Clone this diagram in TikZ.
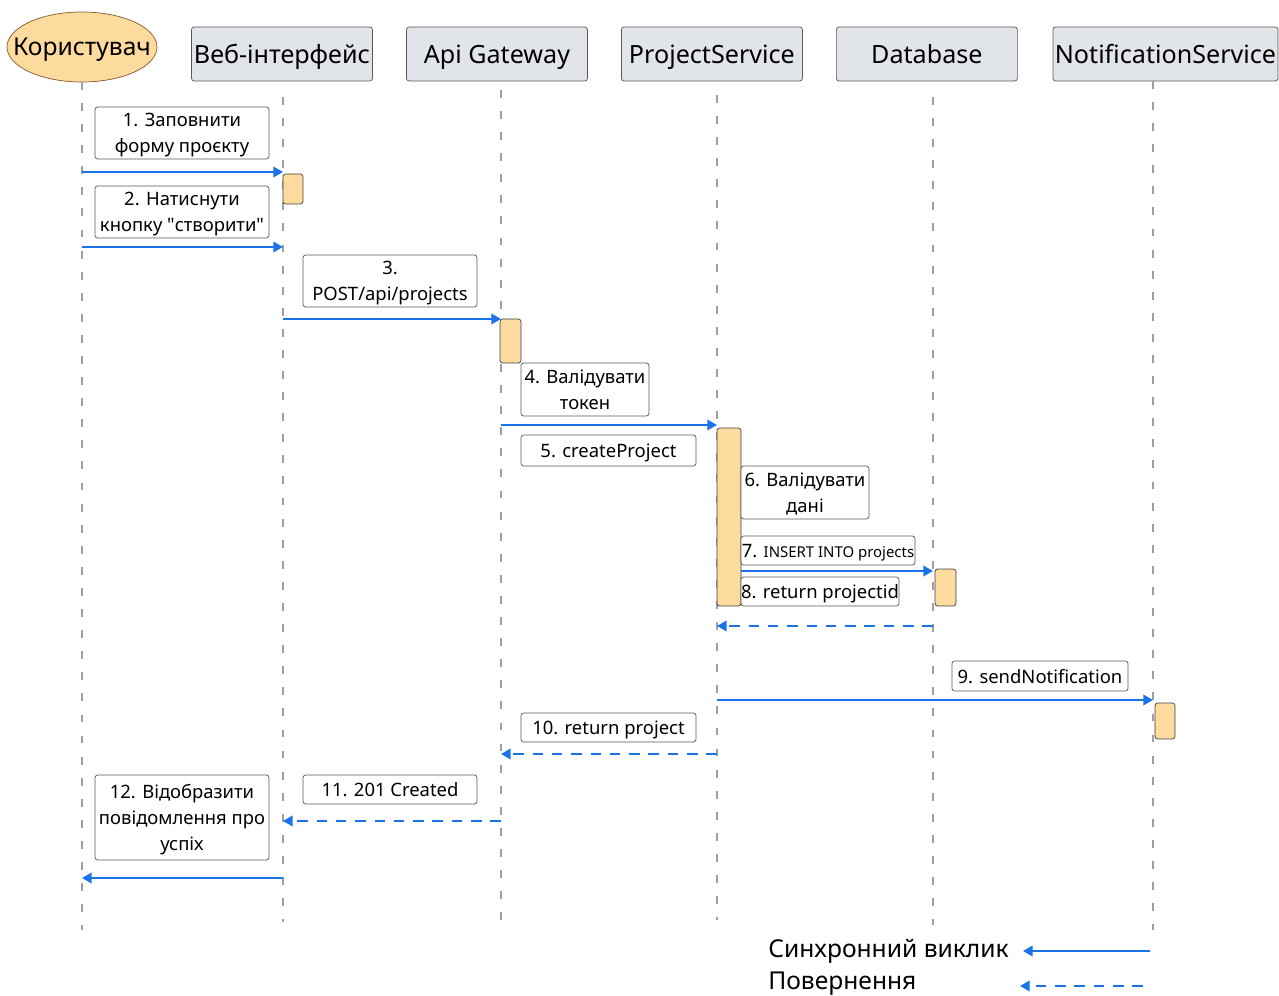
\documentclass[tikz,border=0pt]{standalone}
\usepackage{fontspec}
\setmainfont{Noto Sans}
\usetikzlibrary{positioning,shapes.geometric,arrows.meta}
\definecolor{callblue}{HTML}{1A73E8}
\definecolor{partgray}{HTML}{E1E4E8}
\definecolor{actorange}{HTML}{FDDA9E}
\definecolor{lifegray}{HTML}{9AA0A6}
\tikzset{
  part/.style={rectangle,draw=black!65,fill=partgray,rounded corners=1.5pt,minimum width=3.62cm,minimum height=1.08cm,inner sep=0pt,text depth=0pt,font=\fontsize{14.3}{16}\selectfont},
  actor/.style={ellipse,draw=brown!70!black,fill=actorange,minimum width=3cm,minimum height=1.4cm,inner sep=0pt,text depth=0pt,font=\fontsize{14}{16}\selectfont},
  lbl/.style={rectangle,draw=black!65,fill=white,rounded corners=1.5pt,align=center,inner sep=0pt,text depth=0pt,font=\fontsize{10.5}{14.8}\selectfont},
  act/.style={rectangle,draw=black!75,fill=actorange,rounded corners=1.5pt,inner sep=0pt},
  life/.style={lifegray,line width=1.1pt,dash pattern=on 4.5pt off 7.5pt},
  call/.style={callblue,line width=1.1pt,-{Triangle[length=5.5pt,width=6pt]}},
  ret/.style={call,dash pattern=on 6pt off 5pt},
  legend/.style={anchor=west,inner sep=0pt,font=\fontsize{14}{16}\selectfont}
}
\begin{document}
\begin{tikzpicture}[x=0.02cm,y=-0.02cm,node distance=4.3cm]
\useasboundingbox (0,0) rectangle (1279,996);
\node[actor] (user) at (82,47) {\makebox[0pt]{Користувач}};
\node[part] (web) at (282,54) {Веб-інтерфейс};
\node[part] (api) [right of=web] {Api Gateway};
\node[part] (proj) [right of=api] {ProjectService};
\node[part] (db) [right of=proj] {Database};
\node[part,minimum width=4.5cm] (notif) at (1165.5,54) {NotificationService};

\coordinate (user-t) at (82,82);
\coordinate (user-b) at (82,930);
\draw[life] (user-t) -- (user-b);
\foreach \n/\x/\a/\b in {web/283/97/922,api/501/90/927,proj/717/95/920,db/933/97/925,notif/1153/81/930}{
  \coordinate (\n-t) at (\x,\a);
  \coordinate (\n-b) at (\x,\b);
  \draw[life] (\n-t) -- (\n-b);
}

\node[act,minimum width=0.4cm,minimum height=0.6cm] (aweb) at (293,189) {};
\node[act,minimum width=0.42cm,minimum height=0.88cm] (aapi) at (510.5,341) {};
\node[act,minimum width=0.48cm,minimum height=3.56cm] (aproj) at (729,517) {};
\node[act,minimum width=0.42cm,minimum height=0.74cm] (adb) at (945.5,587.5) {};
\node[act,minimum width=0.4cm,minimum height=0.72cm] (anotif) at (1165,721) {};

\node[lbl,minimum width=3.48cm,minimum height=1.04cm] (m1) at (182,133) {1. Заповнити\\форму проєкту};
\node[lbl,minimum width=3.48cm,minimum height=1.04cm] (m2) at (182,212) {2. Натиснути\\кнопку \textquotedbl створити\textquotedbl};
\node[lbl,minimum width=3.48cm,minimum height=1.04cm] (m3) at (390,281) {3.\\POST/api/projects};
\node[lbl,minimum width=2.56cm,minimum height=1.06cm] (m4) at (585,389.5) {4. Валідувати\\токен};
\node[lbl,minimum width=3.5cm,minimum height=0.62cm] (m5) at (608.5,450.5) {5. createProject};
\node[lbl,minimum width=2.56cm,minimum height=1.06cm] (m6) at (805,492.5) {6. Валідувати\\дані};
\node[lbl,minimum width=3.48cm,minimum height=0.58cm] (m7) at (828,550.5) {7. {\fontsize{8.5}{10}\selectfont INSERT INTO projects}};
\node[lbl,minimum width=3.16cm,minimum height=0.58cm] (m8) at (820,591.5) {8. return projectid};
\node[lbl,minimum width=3.52cm,minimum height=0.6cm] (m9) at (1040,676) {9. sendNotification};
\node[lbl,minimum width=3.5cm,minimum height=0.58cm] (m10) at (608.5,727.5) {10. return project};
\node[lbl,minimum width=3.48cm,minimum height=0.58cm] (m11) at (390,789.5) {11. 201 Created};
\node[lbl,minimum width=3.48cm,minimum height=1.7cm] (m12) at (182,817.5) {12. Відобразити\\повідомлення про\\успіх};

\foreach \r/\y in {1/172,2/247,3/319,4/425,5/571,6/626,7/700,8/754,9/821,10/878}
  \coordinate (r\r) at (0,\y);
\draw[call] (user-t |- r1) -- (web-t |- r1);
\draw[call] (user-t |- r2) -- (web-t |- r2);
\draw[call] (web-t |- r3) -- (api-t |- r3);
\draw[call] (api-t |- r4) -- (proj-t |- r4);
\draw[call] (aproj.east |- r5) -- (db-t |- r5);
\draw[ret] (db-t |- r6) -- (proj-t |- r6);
\draw[call] (proj-t |- r7) -- (notif-t |- r7);
\draw[ret] (proj-t |- r8) -- (api-t |- r8);
\draw[ret] (api-t |- r9) -- (web-t |- r9);
\draw[call] (web-t |- r10) -- (user-t |- r10);

\node[legend] (leg1) at (768,951) {Синхронний виклик};
\node[legend] (leg2) at (768,984) {Повернення};
\coordinate (k1) at (1150,951);
\coordinate (k1e) at (1023,951);
\coordinate (k2) at (1143,986);
\coordinate (k2e) at (1020,986);
\draw[call] (k1) -- (k1e);
\draw[ret] (k2) -- (k2e);
\end{tikzpicture}
\end{document}
